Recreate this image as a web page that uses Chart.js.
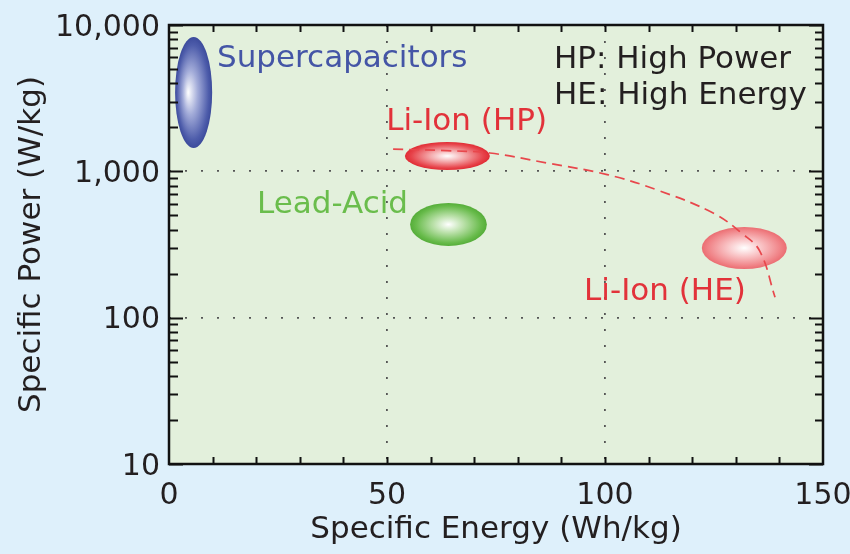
<!DOCTYPE html>
<html>
<head>
<meta charset="utf-8">
<script src="https://cdn.jsdelivr.net/npm/chart.js@4.4.1/dist/chart.umd.min.js"></script>
<style>
html,body{margin:0;padding:0;background:#def0fb;}
#wrap{width:850px;height:554px;}
</style>
</head>
<body>
<div id="wrap"><canvas id="c" width="850" height="554"></canvas></div>
<script>
// ---- data ----
const xTickValues = [0, 50, 100, 150];
const yTickValues = [10, 100, 1000, 10000];
const xMinorTicks = [10, 20, 30, 40, 50, 60, 70, 80, 90, 100, 110, 120, 130, 140];
const yMinorTicks = [20, 30, 40, 50, 60, 70, 80, 90, 200, 300, 400, 500, 600, 700, 800, 900, 2000, 3000, 4000, 5000, 6000, 7000, 8000, 9000];

// technology regions (Specific Energy Wh/kg, Specific Power W/kg)
const regionNames = ['Supercapacitors', 'Li-Ion (HP)', 'Lead-Acid', 'Li-Ion (HE)'];
const regionEnergyMin = [1.4, 54.1, 55.3, 122.2];
const regionEnergyMax = [9.9, 73.6, 72.9, 141.7];
const regionPowerMin = [1443, 1021, 309, 215];
const regionPowerMax = [8280, 1587, 608, 417];

// dashed Li-Ion trade-off curve
const curveEnergy = [51.4, 63.8, 73.6, 86.7, 100.5, 112.0, 124.8, 131.5, 135.5, 139.0];
const curvePower = [1420, 1384, 1334, 1140, 950, 745, 519, 375, 285, 138];

// text labels and their anchor (left, baseline) in data units
const labelTexts = ['Supercapacitors', 'Li-Ion (HP)', 'Lead-Acid', 'Li-Ion (HE)', 'HP: High Power', 'HE: High Energy'];
const labelEnergy = [11.0, 49.8, 20.2, 95.2, 88.3, 88.3];
const labelPower = [5164, 1916, 519, 132, 5082, 2884];

// ---- styles ----
const FONT = 'DejaVu Sans';
const regionStyles = [
  {core: '#ffffff', mid: '#a3acd9', col: '#4e5dab', edge: '#3c4b9c', hx: -0.3, hy: 0.0},
  {core: '#ffffff', mid: '#f4abad', col: '#e7434a', edge: '#e02c34', hx: 0, hy: 0},
  {core: '#ffffff', mid: '#b9e0a8', col: '#68bb4b', edge: '#55ad39', hx: 0, hy: 0},
  {core: '#ffffff', mid: '#f9c5c7', col: '#f08387', edge: '#eb6d72', hx: 0, hy: 0}
];
const labelColors = ['#4455a6', '#e2323a', '#6abd4c', '#e2323a', '#231f20', '#231f20'];

const pts = curveEnergy.map((x, i) => ({x: x, y: curvePower[i]}));

const bgPlugin = {
  id: 'bg',
  beforeDraw(chart) {
    const {ctx, chartArea: a} = chart;
    ctx.save();
    ctx.fillStyle = '#def0fb';
    ctx.fillRect(0, 0, chart.width, chart.height);
    ctx.fillStyle = '#e3f0dc';
    ctx.fillRect(a.left, a.top, a.right - a.left, a.bottom - a.top);
    ctx.restore();
  },
  beforeDatasetsDraw(chart) {
    const {ctx} = chart;
    const xs = chart.scales.x, ys = chart.scales.y;
    ctx.save();
    regionNames.forEach((n, i) => {
      const x1 = xs.getPixelForValue(regionEnergyMin[i]);
      const x2 = xs.getPixelForValue(regionEnergyMax[i]);
      const y1 = ys.getPixelForValue(regionPowerMax[i]);
      const y2 = ys.getPixelForValue(regionPowerMin[i]);
      const cx = (x1 + x2) / 2, cy = (y1 + y2) / 2;
      const rx = (x2 - x1) / 2, ry = (y2 - y1) / 2;
      const s = regionStyles[i];
      ctx.save();
      ctx.translate(cx, cy);
      ctx.scale(rx, ry);
      const g = ctx.createRadialGradient(s.hx, s.hy, 0, 0, 0, 1);
      g.addColorStop(0, s.core);
      g.addColorStop(0.4, s.mid);
      g.addColorStop(0.85, s.col);
      g.addColorStop(1, s.edge);
      ctx.fillStyle = g;
      ctx.beginPath();
      ctx.arc(0, 0, 1, 0, Math.PI * 2);
      ctx.fill();
      ctx.restore();
    });
    ctx.restore();
  },
  afterDraw(chart) {
    const {ctx, chartArea: a} = chart;
    const xs = chart.scales.x, ys = chart.scales.y;
    ctx.save();
    // labels
    ctx.font = '31px "' + FONT + '"';
    ctx.textAlign = 'left';
    ctx.textBaseline = 'alphabetic';
    labelTexts.forEach((t, i) => {
      ctx.fillStyle = labelColors[i];
      ctx.fillText(t, xs.getPixelForValue(labelEnergy[i]), ys.getPixelForValue(labelPower[i]));
    });
    // inward tick marks
    ctx.strokeStyle = '#111';
    ctx.lineWidth = 2;
    ctx.beginPath();
    xMinorTicks.forEach(v => {
      const px = Math.round(xs.getPixelForValue(v)) + 0.5;
      ctx.moveTo(px, a.bottom); ctx.lineTo(px, a.bottom - 7);
      ctx.moveTo(px, a.top); ctx.lineTo(px, a.top + 7);
    });
    yMinorTicks.forEach(v => {
      const py = Math.round(ys.getPixelForValue(v)) + 0.5;
      ctx.moveTo(a.left, py); ctx.lineTo(a.left + 9, py);
      ctx.moveTo(a.right, py); ctx.lineTo(a.right - 8, py);
    });
    yTickValues.forEach(v => {
      const py = Math.round(ys.getPixelForValue(v)) + 0.5;
      ctx.moveTo(a.left, py); ctx.lineTo(a.left + 14, py);
      ctx.moveTo(a.right, py); ctx.lineTo(a.right - 14, py);
    });
    ctx.stroke();
    // frame
    ctx.lineWidth = 2.5;
    ctx.strokeStyle = '#111';
    ctx.strokeRect(a.left, a.top, a.right - a.left, a.bottom - a.top);
    ctx.restore();
  }
};

new Chart(document.getElementById('c'), {
  type: 'scatter',
  data: {
    datasets: [{
      data: pts,
      showLine: true,
      borderColor: '#e8474c',
      borderWidth: 1.7,
      borderDash: [10, 6],
      pointRadius: 0,
      fill: false,
      tension: 0.4
    }]
  },
  options: {
    responsive: false,
    animation: false,
    layout: {autoPadding: false, padding: {top: 25, right: 27, left: 0, bottom: 0}},
    plugins: {legend: {display: false}, tooltip: {enabled: false}},
    scales: {
      x: {
        type: 'linear',
        min: 0, max: 150,
        afterBuildTicks: s => { s.ticks = xTickValues.map(v => ({value: v})); },
        afterFit: s => { s.height = 90; s.paddingLeft = 0; s.paddingRight = 0; },
        ticks: {color: '#231f20', font: {family: FONT, size: 30}, padding: 14, maxRotation: 0},
        grid: {drawTicks: false, lineWidth: 1.8,
          color: c => (c.tick && (c.tick.value === 50 || c.tick.value === 100)) ? '#555555' : 'rgba(0,0,0,0)'},
        border: {display: false, dash: [2, 14]},
        title: {display: true, text: 'Specific Energy (Wh/kg)', color: '#231f20', font: {family: FONT, size: 31}, padding: {top: 0, bottom: 5}}
      },
      y: {
        type: 'logarithmic',
        min: 10, max: 10000,
        afterBuildTicks: s => { s.ticks = yTickValues.map(v => ({value: v})); },
        afterFit: s => { s.width = 169; s.paddingTop = 0; s.paddingBottom = 0; },
        ticks: {color: '#231f20', font: {family: FONT, size: 30}, padding: 9, labelOffset: 3,
          callback: v => Number(v).toLocaleString('en-US')},
        grid: {drawTicks: false, lineWidth: 1.8,
          color: c => (c.tick && (c.tick.value === 100 || c.tick.value === 1000)) ? '#555555' : 'rgba(0,0,0,0)'},
        border: {display: false, dash: [2, 14]},
        title: {display: true, text: 'Specific Power (W/kg)', color: '#231f20', font: {family: FONT, size: 31}, padding: {top: 13, bottom: 0}}
      }
    }
  },
  plugins: [bgPlugin]
});
</script>
</body>
</html>
